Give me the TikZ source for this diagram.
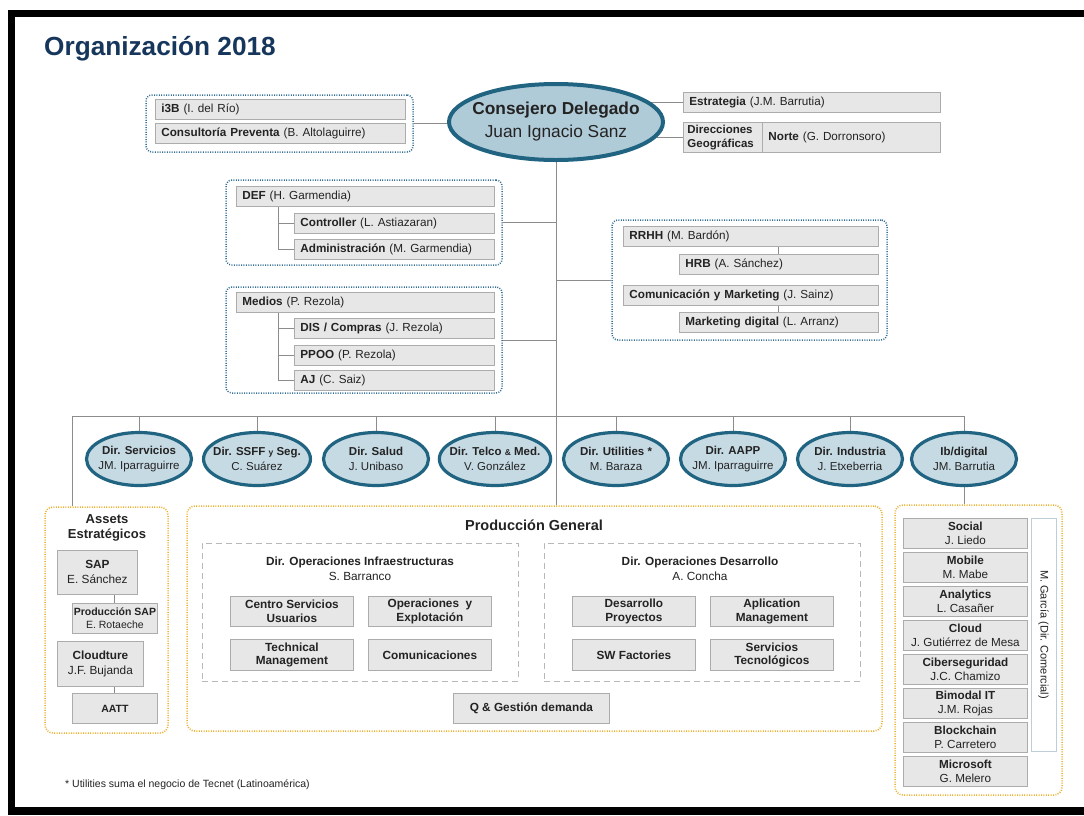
\documentclass[tikz,border=0pt]{standalone}
\usepackage{fontspec}
\setmainfont{Liberation Sans}
\usetikzlibrary{shapes,positioning,fit,calc,backgrounds}

\definecolor{navy}{RGB}{22,54,92}
\definecolor{boxfill}{RGB}{231,231,231}
\definecolor{boxline}{RGB}{172,172,172}
\definecolor{ellfill}{RGB}{198,218,228}
\definecolor{ceofill}{RGB}{176,203,216}
\definecolor{ellline}{RGB}{32,100,130}
\definecolor{bluedot}{RGB}{52,112,150}
\definecolor{golddot}{RGB}{236,176,44}
\definecolor{linkgray}{RGB}{140,140,140}
\definecolor{inktext}{RGB}{35,35,35}
\definecolor{sideline}{RGB}{190,206,216}

\begin{document}
\begin{tikzpicture}[x=1pt, y=-1pt, text=inktext,
    gbox/.style={draw=boxline, fill=boxfill, line width=0.8pt, anchor=north west,
      inner xsep=6pt, inner ysep=0pt, minimum height=20pt, align=left,
      font=\fontsize{11.7}{13}\selectfont},
    cbox/.style={draw=boxline, fill=boxfill, line width=0.8pt, anchor=north west,
      inner sep=0pt, align=center, font=\fontsize{11.8}{13.5}\selectfont\bfseries},
    colbox/.style={cbox, minimum width=124pt, minimum height=30pt,
      font=\fontsize{11.7}{14}\selectfont},
    direll/.style={ellipse, draw=ellline, line width=3.2pt, fill=ellfill,
      minimum width=105pt, minimum height=53pt, inner xsep=-6pt, inner ysep=0pt,
      align=center, font=\fontsize{11.5}{14.5}\selectfont},
    bluegrp/.style={draw=bluedot, line width=1.5pt, dash pattern=on 1pt off 1.4pt,
      rounded corners=6pt, inner sep=0pt},
    goldgrp/.style={draw=golddot, line width=1.5pt, dash pattern=on 1pt off 1.4pt,
      rounded corners=8pt, inner sep=0pt},
    graygrp/.style={draw=black!28, line width=1pt, dash pattern=on 6pt off 4pt, inner sep=0pt},
    link/.style={draw=linkgray, line width=1pt}]

\useasboundingbox (0,0) rectangle (1084,815);
\begin{scope}[on background layer]
  \fill[white] (0,0) rectangle (1084,815);
  \fill[black] (8,10) rectangle (1084,815);
  \fill[white] (15,17) rectangle (1084,807);
\end{scope}

\node (title) [anchor=base west, inner sep=0pt, text=navy,
  font=\fontsize{26.2}{30}\selectfont\bfseries] at (44,55) {Organización 2018};

% top level
\node (ceo) [ellipse, draw=ellline, line width=4pt, fill=ceofill, minimum width=214pt,
  minimum height=76pt, inner xsep=-14pt, inner ysep=0pt, align=center,
  font=\fontsize{17.3}{23}\selectfont] at (556,122) {\textbf{Consejero Delegado}\\Juan Ignacio Sanz};

\node (i3b) [gbox, text width=238pt] at (155,99) {\textbf{i3B} (I. del Río)};
\node (cprev) [gbox, text width=238pt] at (155,123) {\textbf{Consultoría Preventa} (B. Altolaguirre)};
\node (grpA) [bluegrp, fit={(146,95) (413,152)}] {};

\node (estr) [gbox, text width=245pt] at (683,92) {\textbf{Estrategia} (J.M. Barrutia)};
\node (dgeo) [gbox, inner xsep=4pt, text width=71pt, minimum height=30pt,
  font=\fontsize{11.5}{14.5}\selectfont\bfseries] at (683,122) {Direcciones\\Geográficas};
\node (norte) [gbox, text width=166pt, minimum height=30pt] at (762,122) {\textbf{Norte} (G. Dorronsoro)};

% staff
\node (def) [gbox, text width=246pt] at (236,186) {\textbf{DEF} (H. Garmendia)};
\node (ctrl) [gbox, text width=188pt] at (294,213) {\textbf{Controller} (L. Astiazaran)};
\node (admin) [gbox, text width=188pt] at (294,239) {\textbf{Administración} (M. Garmendia)};
\node (grpDef) [bluegrp, fit={(226,180) (502,265)}] {};

\node (medios) [gbox, text width=246pt] at (236,292) {\textbf{Medios} (P. Rezola)};
\node (dis) [gbox, text width=188pt] at (294,318) {\textbf{DIS / Compras} (J. Rezola)};
\node (ppoo) [gbox, text width=188pt] at (294,345) {\textbf{PPOO} (P. Rezola)};
\node (aj) [gbox, text width=188pt] at (294,370) {\textbf{AJ} (C. Saiz)};
\node (grpMed) [bluegrp, fit={(226,287) (502,393)}] {};

\node (rrhh) [gbox, text width=243pt] at (623,226) {\textbf{RRHH} (M. Bardón)};
\node (hrb) [gbox, text width=187pt] at (679,254) {\textbf{HRB} (A. Sánchez)};
\node (comu) [gbox, text width=243pt] at (623,285) {\textbf{Comunicación y Marketing} (J. Sainz)};
\node (mktd) [gbox, text width=187pt] at (679,312) {\textbf{Marketing digital} (L. Arranz)};
\node (grpHr) [bluegrp, fit={(612,220) (887,340)}] {};

% direcciones de mercado
\node (dserv) [direll] at (139,459) {\textbf{Dir. Servicios}\\JM. Iparraguirre};
\node (dssff) [direll] at (257,459) {\textbf{Dir. SSFF {\fontsize{8.5}{8}\selectfont y} Seg.}\\C. Suárez};
\node (dsalud) [direll] at (376,459) {\textbf{Dir. Salud}\\J. Unibaso};
\node (dtelco) [direll] at (495,459) {\textbf{Dir. Telco {\fontsize{8.5}{8}\selectfont\&} Med.}\\V. González};
\node (dutil) [direll] at (616,459) {\textbf{Dir. Utilities *}\\M. Baraza};
\node (daapp) [direll] at (733,459) {\textbf{Dir. AAPP}\\JM. Iparraguirre};
\node (dind) [direll] at (850,459) {\textbf{Dir. Industria}\\J. Etxeberria};
\node (dib) [direll] at (964,459) {\textbf{Ib/digital}\\JM. Barrutia};

% assets
\node (assets) [goldgrp, fit={(45,507) (168,733)}] {};
\node (astitle) [inner sep=0pt, align=center,
  font=\fontsize{13}{15.5}\selectfont\bfseries] at (107,528) {Assets\\Estratégicos};
\node (sap) [cbox, minimum width=80pt, minimum height=44pt,
  font=\fontsize{11.8}{15}\selectfont] at (57,550) {\textbf{SAP}\\E. Sánchez};
\node (prodsap) [cbox, minimum width=85pt, minimum height=30pt,
  font=\fontsize{10.5}{13}\selectfont] at (72,603) {\textbf{Producción SAP}\\E. Rotaeche};
\node (cloudt) [cbox, minimum width=86pt, minimum height=45pt,
  font=\fontsize{11.8}{15}\selectfont] at (57,641) {\textbf{Cloudture}\\J.F. Bujanda};
\node (aatt) [cbox, minimum width=85pt, minimum height=30pt,
  font=\fontsize{10.5}{13}\selectfont\bfseries] at (72,693) {AATT};

% produccion
\node (prod) [goldgrp, fit={(187,506) (882,731)}] {};
\node (prodtit) [inner sep=0pt, font=\fontsize{14.5}{17}\selectfont\bfseries] at (534,525) {Producción General};
\node (opinf) [graygrp, fit={(202,543) (518,681)}] {};
\node (opdes) [graygrp, fit={(544,543) (860,681)}] {};
\node (opinftit) [inner sep=0pt, align=center,
  font=\fontsize{11.8}{15}\selectfont] at (360,569) {\textbf{Dir. Operaciones Infraestructuras}\\S. Barranco};
\node (opdestit) [inner sep=0pt, align=center,
  font=\fontsize{11.8}{15}\selectfont] at (700,569) {\textbf{Dir. Operaciones Desarrollo}\\A. Concha};
\node (csu) [cbox, minimum width=123pt, minimum height=30pt] at (230,596) {Centro Servicios\\Usuarios};
\node (oyx) [cbox, minimum width=123pt, minimum height=30pt] at (368,596) {Operaciones \ y\\Explotación};
\node (tman) [cbox, minimum width=123pt, minimum height=31pt] at (230,639) {Technical\\Management};
\node (comun) [cbox, minimum width=123pt, minimum height=31pt] at (368,639) {Comunicaciones};
\node (dpro) [cbox, minimum width=123pt, minimum height=30pt] at (572,596) {Desarrollo\\Proyectos};
\node (apman) [cbox, minimum width=123pt, minimum height=30pt] at (710,596) {Aplication\\Management};
\node (swf) [cbox, minimum width=123pt, minimum height=31pt] at (572,639) {SW Factories};
\node (stec) [cbox, minimum width=123pt, minimum height=31pt] at (710,639) {Servicios\\Tecnológicos};
\node (qgd) [cbox, minimum width=156pt, minimum height=30pt] at (453,693) {Q \& Gestión demanda};

% ib/digital
\node (digi) [goldgrp, fit={(895,505) (1062,795)}] {};
\node (social) [colbox] at (903,518) {\textbf{Social}\\J. Liedo};
\node (mobile) [colbox] at (903,552) {\textbf{Mobile}\\M. Mabe};
\node (analyt) [colbox] at (903,586) {\textbf{Analytics}\\L. Casañer};
\node (cloud) [colbox] at (903,620) {\textbf{Cloud}\\J. Gutiérrez de Mesa};
\node (ciber) [colbox] at (903,654) {\textbf{Ciberseguridad}\\J.C. Chamizo};
\node (bimod) [colbox] at (903,688) {\textbf{Bimodal IT}\\J.M. Rojas};
\node (bchain) [colbox] at (903,722) {\textbf{Blockchain}\\P. Carretero};
\node (msoft) [colbox] at (903,756) {\textbf{Microsoft}\\G. Melero};
\node (mgar) [draw=sideline, line width=1pt, fill=white, inner sep=0pt,
  fit={(1031,518) (1056,751)}] {};
\node (mgartxt) [rotate=-90, font=\fontsize{11}{13}\selectfont] at (mgar.center) {M. García (Dir. Comercial)};

\node (nota) [anchor=west, inner sep=0pt, font=\fontsize{10.5}{12}\selectfont] at (65,785)
  {* Utilities suma el negocio de Tecnet (Latinoamérica)};

% connectors
\begin{scope}[on background layer]
  \draw[link] (grpA.east) -- (grpA.east -| ceo.center);
  \draw[link] (estr.west) -- (estr.west -| ceo.center);
  \draw[link] (dgeo.west) -- (dgeo.west -| ceo.center);
  \draw[link] (ceo.center) -- (ceo.center |- prod.north);
  \draw[link] (grpDef.east) -- (grpDef.east -| ceo.center);
  \draw[link] (grpMed.east) -- (grpMed.east -| ceo.center);
  \draw[link] (grpHr.west) -- (grpHr.west -| ceo.center);
  \coordinate (defT) at ([xshift=42pt]def.south west);
  \draw[link] (defT) |- (admin.west);
  \draw[link] (defT |- ctrl.west) -- (ctrl.west);
  \coordinate (medT) at ([xshift=42pt]medios.south west);
  \draw[link] (medT) |- (aj.west);
  \draw[link] (medT |- dis.west) -- (dis.west);
  \draw[link] (medT |- ppoo.west) -- (ppoo.west);
  \draw[link] (hrb.north) -- (hrb.north |- rrhh.south);
  \draw[link] (mktd.north) -- (mktd.north |- comu.south);
  \coordinate (busL) at (72,416);
  \draw[link] (busL |- assets.north) -- (busL) -- (busL -| dib.center);
  \foreach \d in {dserv,dssff,dsalud,dtelco,dutil,daapp,dind}
    \draw[link] (\d.center) -- (\d.center |- busL);
  \draw[link] (dib.center |- busL) -- (dib.center |- digi.north);
  \draw[link] (prodsap.north) -- (prodsap.north |- sap.south);
  \draw[link] (aatt.north) -- (aatt.north |- cloudt.south);
\end{scope}
\end{tikzpicture}
\end{document}
